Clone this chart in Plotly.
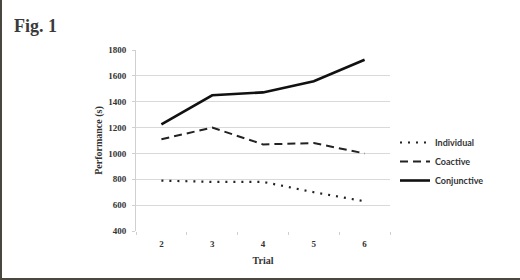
import plotly.graph_objects as go

trials = ["2", "3", "4", "5", "6"]
individual = [790, 780, 780, 700, 630]
coactive = [1110, 1200, 1070, 1080, 1000]
conjunctive = [1225, 1450, 1472, 1558, 1725]
y_ticks = [400, 600, 800, 1000, 1200, 1400, 1600, 1800]

fig = go.Figure()
fig.add_trace(go.Scatter(x=trials, y=individual, mode="lines", name="Individual",
                         line=dict(color="#222222", width=2.2, dash="2px,6px")))
fig.add_trace(go.Scatter(x=trials, y=coactive, mode="lines", name="Coactive",
                         line=dict(color="#222222", width=2, dash="8px,5px")))
fig.add_trace(go.Scatter(x=trials, y=conjunctive, mode="lines", name="Conjunctive",
                         line=dict(color="#111111", width=2.6)))

tick_font = dict(family="Liberation Serif", size=9, color="#333333", weight="bold")
title_font = dict(family="Liberation Serif", size=10, color="#333333", weight="bold")

PW, PH = 254, 181  # plot area size in px
def px(x):
    return (x - 136) / PW
def py(y):
    return (231 - y) / PH

fig.update_layout(
    width=520, height=280,
    margin=dict(l=136, r=130, t=50, b=49, autoexpand=False),
    paper_bgcolor="white", plot_bgcolor="white",
    title=dict(text="Fig. 1", x=14/520, xanchor="left", xref="container",
               y=1-26/280, yanchor="middle", yref="container",
               font=dict(family="Liberation Serif", size=18, color="#3a3a3a", weight="bold")),
    xaxis=dict(type="category", range=[-0.5, 4.5], showgrid=False, ticks="outside", tickson="boundaries",
               ticklen=3, tickcolor="#d0d0d0", showline=False, automargin=False,
               tickfont=tick_font, zeroline=False, ticklabelstandoff=6,
               title=dict(text="Trial", font=title_font, standoff=8)),
    yaxis=dict(range=[400, 1800], tickvals=y_ticks, showgrid=True, gridcolor="#d9d9d9", gridwidth=1,
               showline=True, linecolor="#d0d0d0", ticks="outside", ticklen=3, tickcolor="#d0d0d0",
               tickfont=tick_font, zeroline=False, automargin=False, ticklabelstandoff=4,
               title=dict(text="Performance (s)", font=title_font, standoff=3)),
    legend=dict(x=395/520, xref="container", y=1-128/280, yref="container", xanchor="left", yanchor="top",
                font=dict(family="Lato", size=9, color="#333333", weight="bold"), tracegroupgap=0,
                itemwidth=30, bgcolor="rgba(0,0,0,0)"),
    showlegend=True,
    shapes=[
        dict(type="rect", xref="paper", yref="paper", x0=px(0), x1=px(2), y0=py(280), y1=py(0),
             line=dict(width=0), fillcolor="#4a4640", layer="above"),
        dict(type="rect", xref="paper", yref="paper", x0=px(0), x1=px(520), y0=py(280), y1=py(278),
             line=dict(width=0), fillcolor="#4a4640", layer="above"),
    ],
)
fig.write_html("out.html")
